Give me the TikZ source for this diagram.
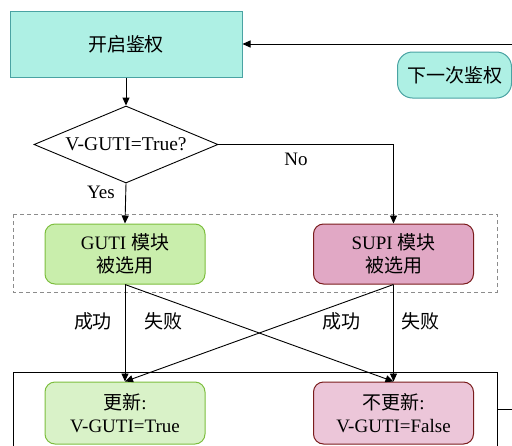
\documentclass[tikz,border=0pt]{standalone}
\usepackage{fontspec}
\setmainfont{Liberation Serif}
\newfontfamily\cjk{Noto Sans CJK SC}
\usetikzlibrary{shapes.geometric,arrows.meta}
\definecolor{tealfill}{HTML}{AEF0E4}
\definecolor{tealline}{HTML}{4AA3A3}
\definecolor{gutifill}{HTML}{C9EEAC}
\definecolor{updfill}{HTML}{D9F2C8}
\definecolor{greenline}{HTML}{7DBE3E}
\definecolor{supifill}{HTML}{E1A8C5}
\definecolor{noupdfill}{HTML}{ECC6D9}
\definecolor{redline}{HTML}{7A1C1C}
\definecolor{frameline}{HTML}{8C8C8C}
\begin{document}
\begin{tikzpicture}[x=1pt,y=-1pt,
  txt/.style={font=\fontsize{19}{23}\selectfont, inner sep=0pt},
  box/.style={txt, draw, line width=1pt, align=center},
  startbox/.style={box, fill=tealfill, draw=tealline, minimum width=232pt, minimum height=66pt},
  nextbox/.style={box, fill=tealfill, draw=tealline, minimum width=114pt, minimum height=46pt, rounded corners=15pt},
  gutibox/.style={box, fill=gutifill, draw=greenline, minimum width=160pt, minimum height=60pt, rounded corners=10pt},
  supibox/.style={box, fill=supifill, draw=redline, minimum width=160pt, minimum height=60pt, rounded corners=10pt},
  updbox/.style={box, fill=updfill, draw=greenline, minimum width=160pt, minimum height=62pt, rounded corners=10pt},
  noupdbox/.style={box, fill=noupdfill, draw=redline, minimum width=160pt, minimum height=62pt, rounded corners=10pt},
  decbox/.style={diamond, draw, line width=0.9pt, inner sep=0pt, aspect=2.4,
      minimum width=184pt, minimum height=77pt, font=\fontsize{19.5}{23}\selectfont},
  arr/.style={line width=0.9pt, -{Triangle[length=8pt,width=7pt]}},
  plain/.style={line width=0.9pt}
]
\useasboundingbox (0,0) rectangle (512,445);

% frames around the module stages
\draw[frameline, line width=0.9pt, dash pattern=on 4pt off 3pt] (13,214) rectangle (497,292);
\draw[plain] (13,372) rectangle (497,470);

% nodes
\node[startbox] (start) at (126,44) {\cjk 开启鉴权};
\node[nextbox] (next) at (454.5,75) {\cjk 下一次鉴权};
\node[decbox] (dec) at (126,144.5) {V-GUTI=True?};
\node[gutibox] (guti) at (125,254) {GUTI {\cjk 模块}\\{\cjk 被选用}};
\node[supibox] (supi) at (393.5,254) {SUPI {\cjk 模块}\\{\cjk 被选用}};
\node[updbox] (upd) at (125,413) {{\cjk 更新}:\\V-GUTI=True};
\node[noupdbox] (noupd) at (393.5,413) {{\cjk 不更新}:\\V-GUTI=False};

% loop back in from the right
\coordinate (loopin) at (520,44);
\coordinate (loopout) at (520,409);
\draw[arr] (loopin) -- (start.east);
\draw[plain] (497,409) -- (loopout);

% decision flow
\draw[arr] (start.south) -- (dec.north);
\draw[arr] (dec.east) -| (supi.north);
\draw[arr] (dec.south) -- (guti.north);
\node[txt] (nolabel) at (296,159) {No};
\node[txt] (yeslabel) at (101,192) {Yes};

% outcomes
\draw[arr] (guti.south) -- (upd.north);
\draw[arr] (guti.south) -- (noupd.north);
\draw[arr] (supi.south) -- (upd.north);
\draw[arr] (supi.south) -- (noupd.north);
\node[txt] (ok1) at (93,321) {\cjk 成功};
\node[txt] (fail1) at (163,321) {\cjk 失败};
\node[txt] (ok2) at (341,321) {\cjk 成功};
\node[txt] (fail2) at (420,321) {\cjk 失败};
\end{tikzpicture}
\end{document}
